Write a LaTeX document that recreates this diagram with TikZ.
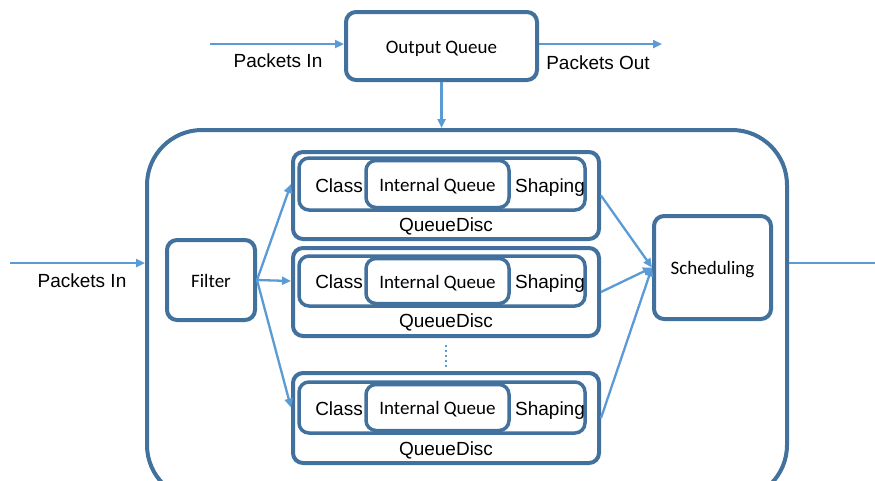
\documentclass[tikz,border=0pt]{standalone}
\usepackage{fontspec}
\setmainfont{Liberation Sans}
\newfontfamily\calibri{Carlito}
\usepackage{xcolor}
\usepackage{tikz}
\usetikzlibrary{arrows.meta}

\definecolor{boxblue}{HTML}{41719C}
\definecolor{flowblue}{HTML}{5B9BD5}

\begin{document}
\begin{tikzpicture}[
  x = 1pt, y = -1pt,
  every node/.style = {inner sep = 0pt, font = \fontsize{19}{22}\selectfont},
  box/.style = {draw = boxblue, line width = 4pt, rounded corners = 10pt, fill = white},
  cal/.style = {font = \fontsize{19}{22}\selectfont\calibri, text height = 16pt, text depth = 2pt},
  lbl/.style = {anchor = base},
  flow/.style = {draw = flowblue, line width = 2.3pt, -{Triangle[length = 9pt, width = 8pt]}}
  ]
  \clip (0,0) rectangle (875,480);

  % traffic control layer
  \node[box, rounded corners = 55pt, minimum width = 640pt, minimum height = 370pt] (tc) at (467,315) {};
  \node[box, cal, minimum width = 191pt, minimum height = 68pt] (oq) at (441.5,46) {Output Queue};
  \node[box, cal, minimum width = 88pt, minimum height = 80pt] (filter) at (211,280) {Filter};
  \node[box, cal, minimum width = 117pt, minimum height = 103pt] (sched) at (712.5,267.5) {Scheduling};

  % first queue disc
  \node[box, minimum width = 306pt, minimum height = 87pt] (qd1) at (446,195.5) {};
  \node[box, line width = 3.5pt, minimum width = 286pt, minimum height = 52pt] (row1) at (442,184) {};
  \node[box, cal, line width = 3.5pt, minimum width = 143pt, minimum height = 47pt] (iq1) at (437.5,184) {Internal Queue};
  \node[lbl] (cls1) at (339,192) {Class};
  \node[lbl] (shp1) at (550,192) {Shaping};
  \node[lbl] (lbl1) at (446,231) {QueueDisc};

  % second queue disc
  \node[box, minimum width = 306pt, minimum height = 88pt] (qd2) at (446,292) {};
  \node[box, line width = 3.5pt, minimum width = 286pt, minimum height = 50pt] (row2) at (442,281) {};
  \node[box, cal, line width = 3.5pt, minimum width = 143pt, minimum height = 45pt] (iq2) at (437.5,281) {Internal Queue};
  \node[lbl] (cls2) at (339,288) {Class};
  \node[lbl] (shp2) at (550,288) {Shaping};
  \node[lbl] (lbl2) at (446,327) {QueueDisc};

  % last queue disc
  \node[box, minimum width = 306pt, minimum height = 90pt] (qd3) at (446,418) {};
  \node[box, line width = 3.5pt, minimum width = 286pt, minimum height = 51pt] (row3) at (442,407.5) {};
  \node[box, cal, line width = 3.5pt, minimum width = 143pt, minimum height = 46pt] (iq3) at (437.5,407.5) {Internal Queue};
  \node[lbl] (cls3) at (339,415) {Class};
  \node[lbl] (shp3) at (550,415) {Shaping};
  \node[lbl] (lbl3) at (446,455) {QueueDisc};

  % packets
  \coordinate (pin1) at (210,44);
  \coordinate (pout1) at (662,44);
  \coordinate (pin2) at (10,263);
  \coordinate (pout2) at (875,263);
  \node[lbl] (tin1) at (278,67) {Packets In};
  \node[lbl] (tout1) at (598,69) {Packets Out};
  \node[lbl] (tin2) at (82,287) {Packets In};

  \draw[flow] (pin1) -- (pin1 -| oq.west);
  \draw[flow] (oq.east |- pout1) -- (pout1);
  \draw[flow] (oq.south) -- (oq.south |- tc.north);
  \draw[flow] (pin2) -- (pin2 -| tc.west);
  \draw[flowblue, line width = 2.3pt] (tc.east |- pout2) -- (pout2);

  \draw[flow] (filter.east) -- (qd1.west |- row1.west);
  \draw[flow] (filter.east) -- (qd2.west |- row2.west);
  \draw[flow] (filter.east) -- (qd3.west |- row3.west);
  \draw[flow] (qd1.east) -- (sched.west);
  \draw[flow] (qd2.east) -- (sched.west);
  \draw[flow] (qd3.east) -- (sched.west);

  \draw[flowblue, line width = 2.5pt, dash pattern = on 2pt off 3pt] ([yshift = -7pt]qd2.south) -- ([yshift = 2pt]qd3.north);
\end{tikzpicture}
\end{document}
